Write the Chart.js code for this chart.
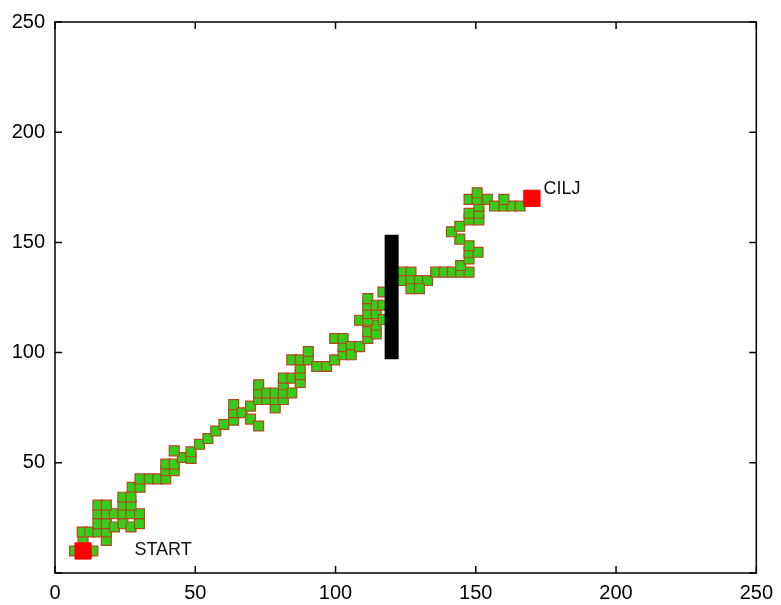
<!DOCTYPE html>
<html>
<head>
<meta charset="utf-8">
<script src="https://cdn.jsdelivr.net/npm/chart.js@4/dist/chart.umd.min.js"></script>
<style>
  html, body { margin: 0; padding: 0; background: #fff; }
  #wrap { width: 781px; height: 605px; }
</style>
</head>
<body>
<div id="wrap"><canvas id="walkChart"></canvas></div>
<script>
// cells visited by the walk, [x, y]
const path = [
  [7, 10], [13.5, 10], [10, 14.8], [18.3, 14.8],
  [9.7, 18.6], [12.4, 18.6], [15.3, 18.6], [18.3, 18.6],
  [15.3, 22.4], [18.3, 22.4], [21.2, 20.9], [24.2, 22.4], [27.1, 20.9], [30.1, 22.4],
  [15.3, 26.9], [18.3, 26.9], [21.2, 26.9], [24.2, 26.9], [27.1, 26.9], [30.1, 26.9],
  [15.3, 30.8], [18.3, 30.8], [24.2, 30.8], [27.1, 30.8],
  [24.2, 34.4], [27.1, 34.4],
  [27.5, 38.9], [30.3, 38.9],
  [30.3, 42.7], [33.6, 42.7], [36.6, 42.7], [39.5, 42.7],
  [39.5, 46.4], [42.5, 46.4],
  [39.5, 49.4], [42.5, 49.4], [45.4, 52.4], [48.5, 52], [48.5, 55], [42.5, 55.4],
  [51.5, 58.4], [54.5, 61], [57.3, 64.4], [60.2, 67.4],
  [63.7, 69.3], [63.7, 72.7], [63.7, 76.4], [66.7, 72.7], [69.7, 75.7], [69.7, 69.8], [72.6, 66.7],
  [72.6, 78.7], [72.6, 81.7], [72.6, 85.4], [75.5, 78.7], [75.5, 81.7],
  [78.5, 74.9], [78.5, 78.7], [78.5, 81.7],
  [81.4, 78.7], [81.4, 81.7], [81.4, 85.4], [81.4, 88.4], [84.4, 81.7], [84.4, 88.4], [87.4, 86.5],
  [87.4, 90], [87.4, 92.9], [84.4, 96.7], [87.4, 96.7], [90.3, 96.7], [90.3, 100.5],
  [93.3, 93.7], [96.8, 93.7], [99.7, 96.7], [102.7, 99], [102.7, 102.7],
  [99.7, 106.4], [102.7, 106.4], [105.6, 102.7], [105.6, 99],
  [108.6, 102.7], [111.5, 106.4], [111.5, 109.5], [114.5, 108.5], [114.5, 112.5],
  [108.6, 114.7], [111.5, 114.7], [111.5, 117.7], [114.5, 117.7],
  [111.5, 121.5], [111.5, 124.5], [114.5, 121.5], [116.9, 127.5], [116.9, 121.5], [117, 115],
  [122, 134], [123.9, 136.5], [126.9, 136.5], [123.9, 132.7], [126.9, 132.7],
  [129.9, 132.7], [132.8, 132.7], [126.9, 129], [129.9, 129],
  [135.7, 136.5], [138.7, 136.5], [141.6, 136.5], [144.6, 136.5], [147.6, 136.5],
  [144.6, 139.5], [147.6, 142.5], [147.6, 145.5], [150.8, 145.5], [147.6, 148.5],
  [144.3, 151.5], [141.3, 154.8], [144.3, 157.3],
  [147.6, 160.2], [151.1, 160.2], [147.6, 163.2], [151.1, 163.2], [151.1, 166.3],
  [147.6, 169.5], [150.5, 169.5], [154.1, 169.5], [150.5, 172.5],
  [156.7, 166.5], [160, 166.5], [162.9, 166.5], [165.8, 166.5], [160, 169.5]
];

const endpoints = [[10, 10], [170, 170]];   // start, goal

const wallX = [120, 120];
const wallY = [97, 153.5];

const axisMin = 0;
const axisMax = 250;
const axisStep = 50;

const notes = [
  { text: 'START', x: 28.3, y: 10.6 },
  { text: 'CILJ', x: 174.1, y: 174.1 }
];

const FONT = '"Liberation Sans", Arial, sans-serif';

// box with inward ticks on all four sides, plus the text notes
const framePlugin = {
  id: 'frame',
  afterDatasetsDraw(chart) {
    const { ctx, chartArea: a, scales: { x, y } } = chart;
    const len = 7;
    ctx.save();
    ctx.strokeStyle = '#000';
    ctx.lineWidth = 1.5;
    ctx.strokeRect(a.left, a.top, a.right - a.left, a.bottom - a.top);
    ctx.beginPath();
    x.ticks.forEach(t => {
      const px = x.getPixelForValue(t.value);
      ctx.moveTo(px, a.bottom); ctx.lineTo(px, a.bottom - len);
      ctx.moveTo(px, a.top); ctx.lineTo(px, a.top + len);
    });
    y.ticks.forEach(t => {
      const py = y.getPixelForValue(t.value);
      ctx.moveTo(a.left, py); ctx.lineTo(a.left + len, py);
      ctx.moveTo(a.right, py); ctx.lineTo(a.right - len, py);
    });
    ctx.stroke();

    ctx.fillStyle = '#111';
    ctx.font = '18px ' + FONT;
    ctx.textAlign = 'left';
    ctx.textBaseline = 'middle';
    notes.forEach(n => {
      ctx.fillText(n.text, x.getPixelForValue(n.x), y.getPixelForValue(n.y));
    });
    ctx.restore();
  }
};

const axisTicks = (pad, hideZero) => ({
  stepSize: axisStep,
  padding: pad,
  color: '#000',
  font: { family: FONT, size: 20 },
  callback: v => (hideZero && v === 0 ? '' : v)
});

new Chart(document.getElementById('walkChart'), {
  type: 'scatter',
  data: {
    datasets: [
      {
        // obstacle
        data: wallX.map((x, i) => ({ x, y: wallY[i] })),
        showLine: true,
        borderColor: '#000',
        borderWidth: 14,
        pointRadius: 0
      },
      {
        data: endpoints.map(([x, y]) => ({ x, y })),
        pointStyle: 'rect',
        pointRadius: 11.5,
        pointBackgroundColor: '#ff0000',
        pointBorderColor: '#ff0000',
        pointBorderWidth: 1
      },
      {
        data: path.map(([x, y]) => ({ x, y })),
        pointStyle: 'rect',
        pointRadius: 7,
        pointBackgroundColor: '#36cc1a',
        pointBorderColor: '#b04a1c',
        pointBorderWidth: 1.2
      }
    ]
  },
  options: {
    responsive: true,
    maintainAspectRatio: false,
    animation: false,
    layout: { padding: { top: 18, right: 20, left: 0, bottom: 0 } },
    plugins: {
      legend: { display: false },
      tooltip: { enabled: false }
    },
    scales: {
      x: {
        type: 'linear',
        min: axisMin,
        max: axisMax,
        grid: { display: false, drawTicks: false },
        border: { display: false },
        ticks: axisTicks(8, false),
        afterFit(s) { s.height = 32; }
      },
      y: {
        type: 'linear',
        min: axisMin,
        max: axisMax,
        grid: { display: false, drawTicks: false },
        border: { display: false },
        ticks: axisTicks(10, true),
        afterFit(s) { s.width = 55; }
      }
    }
  },
  plugins: [framePlugin]
});
</script>
</body>
</html>
